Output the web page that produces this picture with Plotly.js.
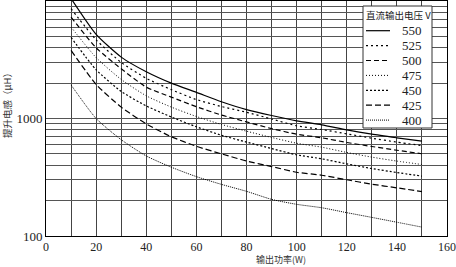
<!DOCTYPE html>
<html><head><meta charset="utf-8">
<script src="https://cdn.plot.ly/plotly-3.0.1.min.js"></script>
<style>html,body{margin:0;padding:0;background:#fff}</style>
</head><body><div id="chart" style="width:456px;height:267px"></div>
<script>
// Output power (W)
const power = [10,20,30,40,50,60,70,80,90,100,110,120,130,140,150];
// Boost inductance (uH) for each DC output voltage (V)
const v550 = [10500,5200,3330,2500,2000,1670,1390,1190,1060,955,884,801,735,685,641];
const v525 = [8600,4680,3000,2200,1760,1450,1265,1130,990,866,806,740,680,629,589];
const v500 = [7300,4000,2650,1850,1520,1260,1070,935,820,735,685,625,578,537,501];
const v475 = [6000,3300,2150,1560,1250,1040,890,780,690,616,570,514,469,434,406];
const v450 = [4900,2600,1700,1280,1030,850,720,630,555,491,454,411,375,347,323];
const v425 = [3800,1950,1250,900,700,580,500,435,390,349,329,301,276,257,239];
const v400 = [1930,1000,660,480,385,320,275,240,205,186,174,158,144,131,119];
const seriesNames = ['550','525','500','475','450','425','400'];
const seriesValues = [v550,v525,v500,v475,v450,v425,v400];
const legendTitle = '直流输出电压 V';
const xTickVals = [0,20,40,60,80,100,120,140,160];
const xTickLabels = ['0','20','40','60','80','100','120','140','160'];
const xTitle = '输出功率(W)';
const yTitle = '提升电感（μH）';

const dashes = ['solid','2px,3px','5px,3px','1px,2px','2px,2px','6px,3px','1px,1px'];
const widths = [1.2,1.2,1.2,1,1.2,1.2,1];

const traces = seriesNames.map((n,i)=>({
  x: power, y: seriesValues[i], name: n, type:'scatter', mode:'lines', showlegend:false,
  line:{color:'#000', width:widths[i], dash:dashes[i], shape:'spline', smoothing:0.6}
}));

const yGrid = [], yText = [];
for (const d of [100,1000]) for (let m=1;m<=9;m++){ yGrid.push(d*m); yText.push(m===1? String(d):''); }
yGrid.push(10000); yText.push('10000');

const serif = "Liberation Serif";
const cjk = "Noto Sans CJK SC";

// plot area in pixels
const L=46, R=447, T=1, B=236;
const px = X => (X-L)/(R-L);
const py = Y => (B-Y)/(B-T);

// legend drawn as a boxed key
const shapes = [{type:'rect', xref:'paper', yref:'paper', x0:px(363), x1:px(432), y0:py(128), y1:py(6),
  fillcolor:'#fff', line:{color:'#333', width:1}, layer:'above'}];
const annotations = [
  {text:legendTitle, xref:'paper', yref:'paper', x:px(398), y:py(15), showarrow:false,
   xanchor:'center', yanchor:'middle', font:{family:cjk, size:9.5, color:'#222'}},
  {text:xTitle, xref:'paper', yref:'paper', x:px(281), y:py(259), showarrow:false,
   xanchor:'center', yanchor:'middle', borderpad:0, font:{family:cjk, size:9, color:'#333'}},
  {text:yTitle, xref:'paper', yref:'paper', x:px(7), y:py(103), showarrow:false,
   textangle:-90, xanchor:'center', yanchor:'middle', font:{family:cjk, size:9.5, color:'#333'}}
];
seriesNames.forEach((n,i)=>{
  const yy = 30.7 + 14.9*i;
  shapes.push({type:'line', xref:'paper', yref:'paper', x0:px(366), x1:px(390), y0:py(yy), y1:py(yy),
    line:{color:'#000', width:widths[i], dash:dashes[i]}, layer:'above'});
  annotations.push({text:n, xref:'paper', yref:'paper', x:px(400), y:py(yy), showarrow:false,
    xanchor:'left', yanchor:'middle', font:{family:serif, size:13, color:'#222'}});
});

const layout = {
  width:456, height:267,
  margin:{l:L, r:456-R, t:T, b:267-B},
  paper_bgcolor:'#fff', plot_bgcolor:'#fff',
  showlegend:false,
  xaxis:{range:[0,160], tickmode:'array', tickvals:xTickVals, ticktext:xTickLabels,
    showgrid:true, gridcolor:'#444', gridwidth:1,
    minor:{dtick:10, showgrid:true, gridcolor:'#444', gridwidth:1},
    showline:true, linecolor:'#000', linewidth:1, mirror:true, ticks:'', zeroline:false,
    tickfont:{family:serif, size:12, color:'#222'}},
  yaxis:{type:'log', range:[2,4], tickmode:'array', tickvals:yGrid, ticktext:yText,
    showgrid:true, gridcolor:'#555', gridwidth:1,
    showline:true, linecolor:'#000', linewidth:1, mirror:true, ticks:'', zeroline:false,
    tickfont:{family:serif, size:13, color:'#222'}},
  shapes: shapes,
  annotations: annotations
};
Plotly.newPlot('chart', traces, layout, {staticPlot:true, displayModeBar:false});
</script></body></html>
